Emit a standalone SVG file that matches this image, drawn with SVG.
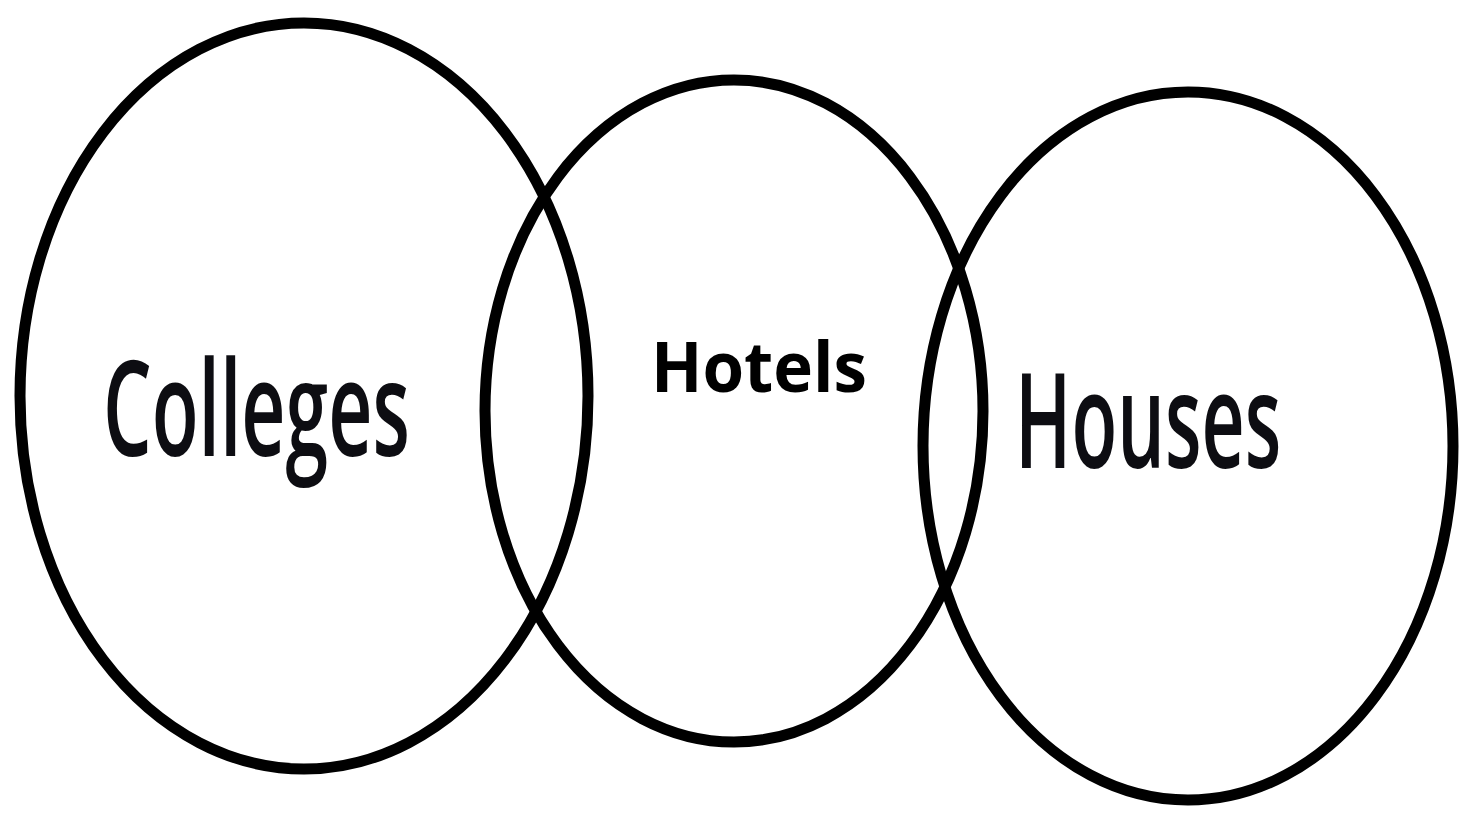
<svg xmlns="http://www.w3.org/2000/svg" width="1462" height="815" viewBox="0 0 1462 815">
<style>
.ring{fill:none;stroke:#000;stroke-width:11}
.big{font-family:"Open Sans","Liberation Sans",sans-serif;font-size:132px;font-weight:600;fill:#0d0d12}
.mid{font-family:"Open Sans","Liberation Sans",sans-serif;font-size:70px;font-weight:bold;fill:#000}
</style>
<rect width="1462" height="815" fill="#fff"/>
<g id="colleges">
<ellipse class="ring" cx="304" cy="396" rx="284" ry="373"/>
<text class="big" transform="translate(103,456) scale(0.58,1)" x="0" y="0" textLength="529" lengthAdjust="spacingAndGlyphs">Colleges</text>
</g>
<g id="hotels">
<ellipse class="ring" cx="734" cy="411" rx="249" ry="331"/>
<text class="mid" x="651" y="392" textLength="216" lengthAdjust="spacingAndGlyphs">Hotels</text>
</g>
<g id="houses">
<ellipse class="ring" cx="1188" cy="446" rx="265" ry="354"/>
<text class="big" transform="translate(1015,468) scale(0.57,1)" x="0" y="0" textLength="467" lengthAdjust="spacingAndGlyphs">Houses</text>
</g>
<g id="connectors"></g>
</svg>
